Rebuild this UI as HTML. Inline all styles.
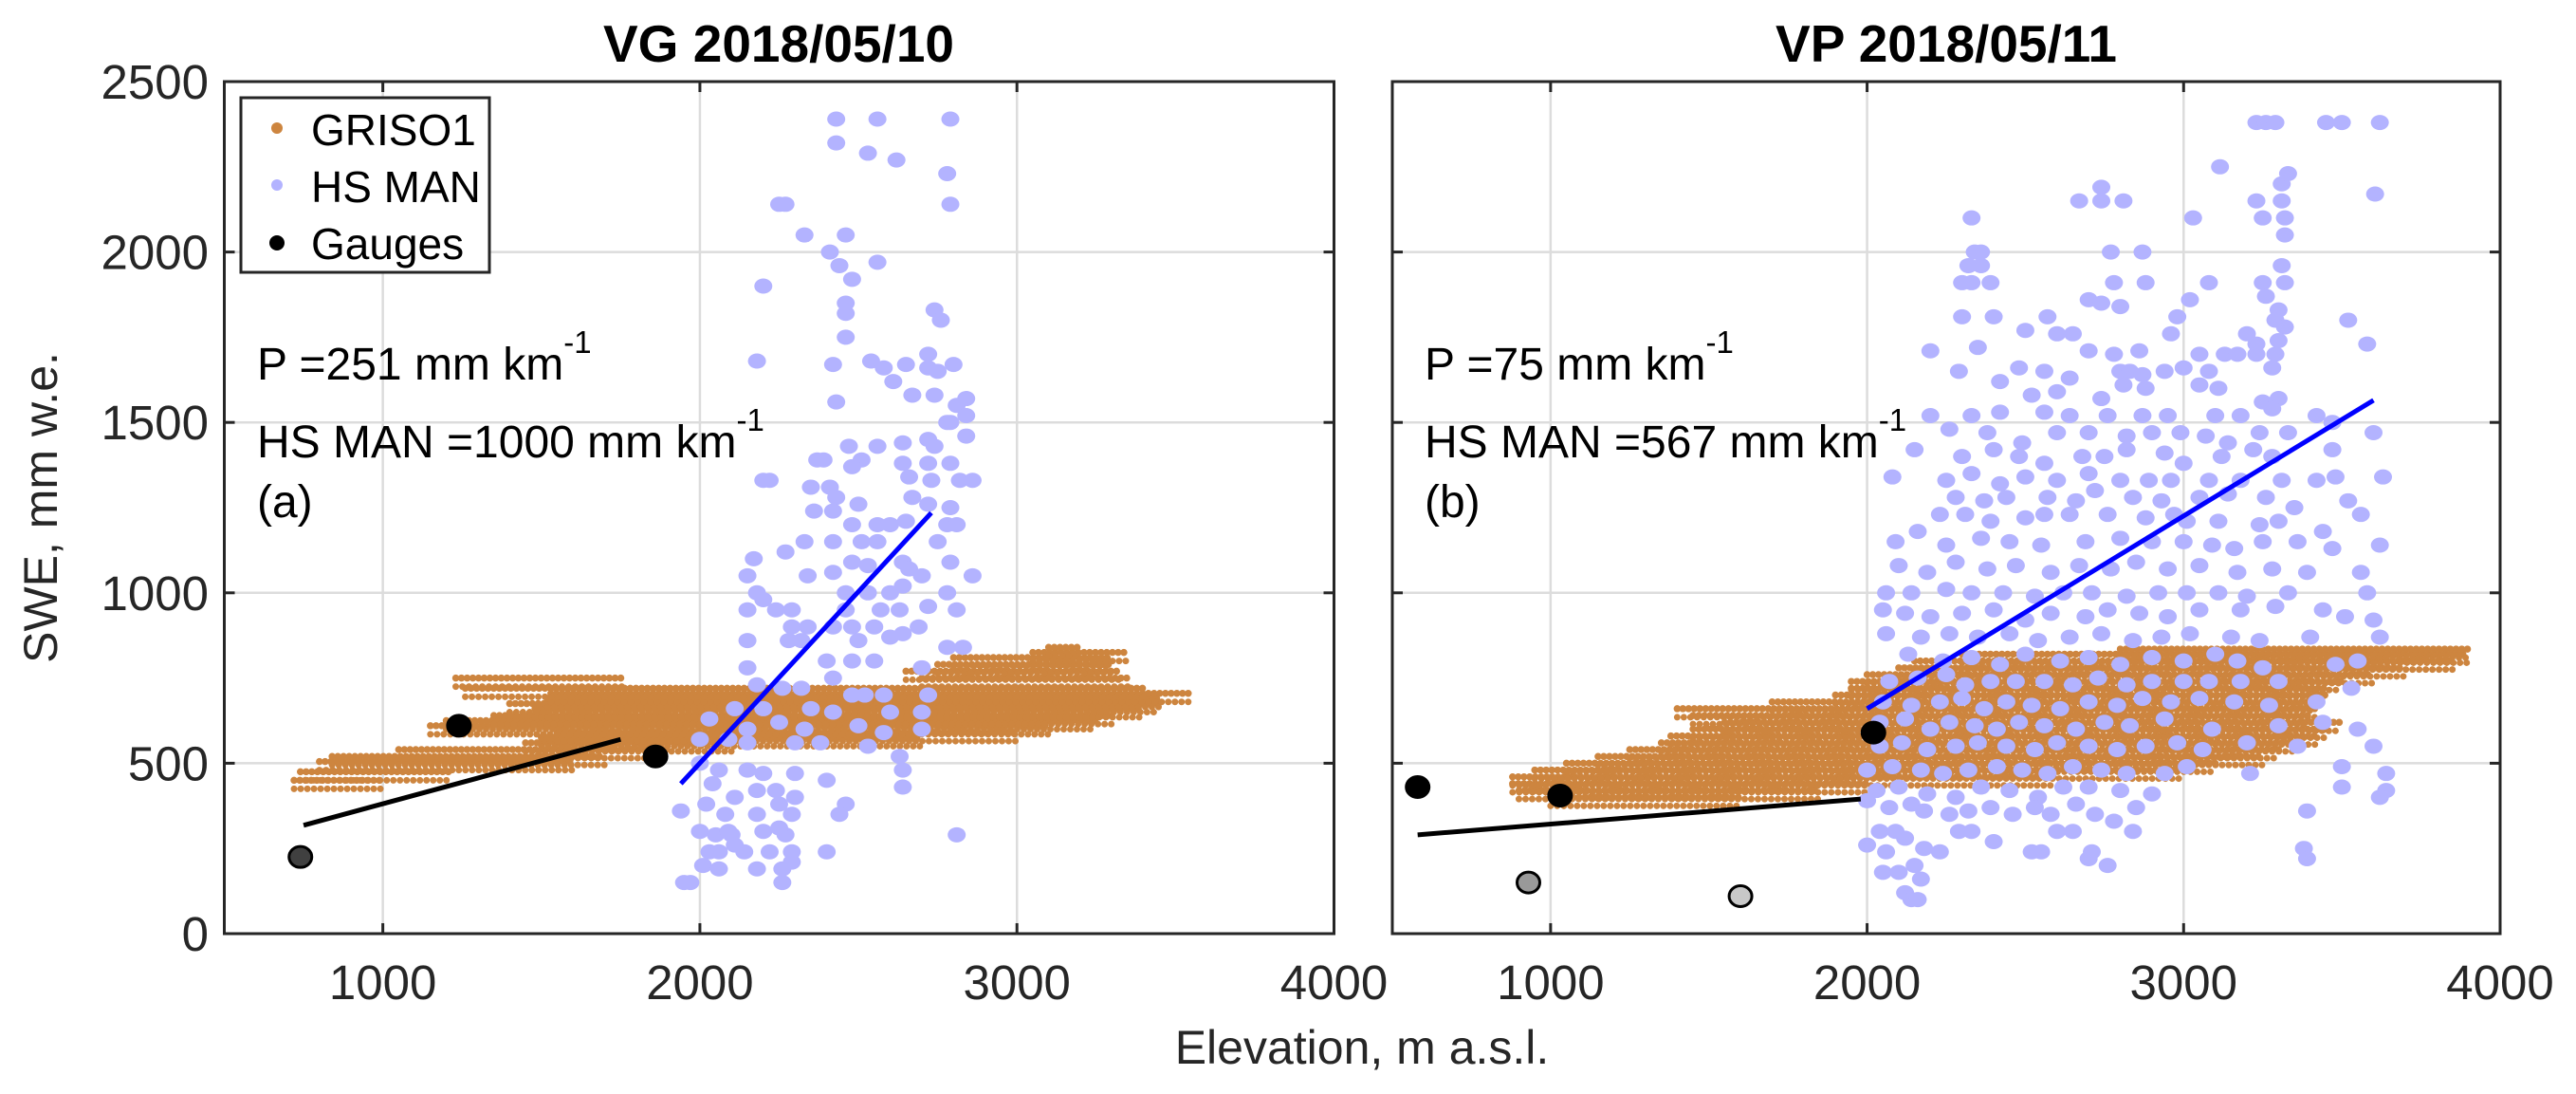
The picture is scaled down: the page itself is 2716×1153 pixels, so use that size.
<!DOCTYPE html>
<html><head><meta charset="utf-8"><style>
html,body{margin:0;padding:0;background:#fff;}
svg{display:block;font-family:"Liberation Sans",Arial,sans-serif;}
</style></head><body>
<svg id="fig" width="2716" height="1153" viewBox="0 0 2716 1153" xmlns="http://www.w3.org/2000/svg">
<defs>
<clipPath id="clipL"><rect x="236" y="86" width="1171" height="898"/></clipPath>
<clipPath id="clipR"><rect x="1468" y="86" width="1168" height="898"/></clipPath>
</defs>
<g id="gridL"></g>
<g id="gridR"></g>
<g id="dataL" clip-path="url(#clipL)"></g>
<g id="dataR" clip-path="url(#clipR)"></g>
<g id="axesL"></g>
<g id="axesR"></g>

<text x="821" y="65" font-size="55" font-weight="bold" text-anchor="middle" fill="#000">VG 2018/05/10</text>
<text x="2052" y="65" font-size="55" font-weight="bold" text-anchor="middle" fill="#000">VP 2018/05/11</text>
<text transform="translate(60,535) rotate(-90)" font-size="50" text-anchor="middle" fill="#262626">SWE, mm w.e.</text>
<text x="1436" y="1121" font-size="50" text-anchor="middle" fill="#262626">Elevation, m a.s.l.</text>

<g font-size="48" fill="#000">
<text x="271" y="400">P =251 mm km<tspan font-size="33" dy="-28">-1</tspan></text>
<text x="271" y="482">HS MAN =1000 mm km<tspan font-size="33" dy="-28">-1</tspan></text>
<text x="271" y="545">(a)</text>
</g>
<g font-size="48" fill="#000">
<text x="1502" y="400">P =75 mm km<tspan font-size="33" dy="-28">-1</tspan></text>
<text x="1502" y="482">HS MAN =567 mm km<tspan font-size="33" dy="-28">-1</tspan></text>
<text x="1502" y="545">(b)</text>
</g>

<g>
<rect x="254" y="103" width="262" height="184" fill="#fff" stroke="#262626" stroke-width="3"/>
<ellipse cx="292" cy="135" rx="6" ry="6" fill="#cd853f"/>
<text x="328" y="153" font-size="46" fill="#000">GRISO1</text>
<ellipse cx="292" cy="195" rx="6" ry="6" fill="#b3b3ff"/>
<text x="328" y="213" font-size="46" fill="#000">HS MAN</text>
<ellipse cx="292" cy="256" rx="8" ry="8" fill="#000"/>
<text x="328" y="273" font-size="46" fill="#000">Gauges</text>
</g>
</svg>
<script>
const xTicks = [1000, 2000, 3000, 4000];
const yTicks = [0, 500, 1000, 1500, 2000, 2500];
const xDomain = [500, 4000];
const yDomain = [0, 2500];

const leftGrisoSwe = [450,475,505,520,540,560,575,590,610,625,640,660,675,690,705,720,750,750,770,790,810,825,840];
const leftGrisoStart = [720,740,800,840,1050,1450,1500,1550,1150,1200,1350,1480,1400,1520,1530,1260,1230,2700,2650,2750,2800,3050,3100];
const leftGrisoEnd = [1000,1220,1600,1700,1900,2100,2700,3000,3100,3250,3300,3400,3450,3450,3550,3400,1760,3350,3330,3300,3300,3350,3200];

const rightGrisoSwe = [400,420,440,460,480,500,520,540,560,580,600,620,640,660,680,700,720,740,760,780,800,820,835];
const rightGrisoStart = [1000,900,880,880,950,1050,1150,1250,1350,1380,1450,1550,1450,1400,1700,1900,1950,1950,2000,2100,2150,2300,2800];
const rightGrisoEnd = [1600,1850,2000,2600,3000,3100,3250,3300,3350,3420,3450,3500,3400,3420,3400,3450,3450,3500,3600,3700,3850,3900,3900];

const leftHs = [[2430,2390],[2560,2390],[2790,2390],[2430,2320],[2530,2290],[2620,2270],[2780,2230],[2790,2140],[2250,2140],[2270,2140],[2330,2050],[2460,2050],[2410,2000],[2440,1960],[2480,1920],[2560,1970],[2200,1900],[2460,1850],[2460,1820],[2740,1830],[2760,1800],[2460,1750],[2420,1670],[2180,1680],[2540,1680],[2580,1660],[2650,1670],[2720,1700],[2720,1660],[2750,1650],[2800,1670],[2610,1620],[2670,1580],[2740,1580],[2840,1570],[2810,1550],[2430,1560],[2840,1520],[2470,1430],[2560,1430],[2640,1440],[2780,1500],[2790,1500],[2720,1450],[2740,1430],[2840,1460],[2370,1390],[2390,1390],[2510,1390],[2480,1370],[2640,1380],[2720,1380],[2790,1380],[2820,1330],[2860,1330],[2660,1340],[2730,1330],[2200,1330],[2220,1330],[2350,1310],[2410,1310],[2430,1280],[2500,1260],[2360,1240],[2420,1240],[2670,1280],[2720,1260],[2790,1250],[2780,1200],[2810,1200],[2480,1200],[2560,1200],[2600,1200],[2650,1210],[2330,1150],[2420,1150],[2510,1150],[2560,1150],[2750,1150],[2170,1100],[2270,1120],[2480,1090],[2530,1080],[2640,1090],[2660,1070],[2700,1050],[2790,1090],[2860,1050],[2150,1050],[2180,1000],[2340,1050],[2420,1060],[2460,1000],[2530,1000],[2600,1000],[2640,1020],[2780,1000],[2200,980],[2240,950],[2150,950],[2290,950],[2460,950],[2570,950],[2630,950],[2720,960],[2810,950],[2290,900],[2340,900],[2420,900],[2480,900],[2550,900],[2640,880],[2690,900],[2150,860],[2280,860],[2320,860],[2500,860],[2600,870],[2780,840],[2830,840],[2150,780],[2400,800],[2480,800],[2550,800],[2700,780],[2420,750],[2180,730],[2260,720],[2320,720],[2480,700],[2520,700],[2580,700],[2720,700],[2110,660],[2200,660],[2350,660],[2420,650],[2600,650],[2700,650],[2030,630],[2150,600],[2250,620],[2330,600],[2500,610],[2580,590],[2700,600],[2000,570],[2090,570],[2150,560],[2300,560],[2380,560],[2530,550],[2630,520],[2000,500],[2060,480],[2150,480],[2200,470],[2300,470],[2400,450],[2640,480],[2040,440],[2110,400],[2180,420],[2240,420],[2300,400],[2460,380],[2640,430],[1940,360],[2020,380],[2080,350],[2180,350],[2250,380],[2290,350],[2440,350],[2000,300],[2050,290],[2090,300],[2200,300],[2270,290],[2030,240],[2060,240],[2140,240],[2220,240],[2290,240],[2400,240],[2810,290],[2010,200],[2060,190],[2180,190],[2260,190],[2290,210],[1950,150],[1970,150],[2260,150],[2100,290],[2110,260],[2250,310]];

const rightHs = [[3230,2380],[3260,2380],[3290,2380],[3450,2380],[3500,2380],[3620,2380],[3115,2250],[3310,2200],[3330,2230],[3230,2150],[3310,2150],[3605,2170],[2740,2190],[2670,2150],[2740,2150],[2810,2150],[3250,2100],[3320,2100],[3030,2100],[2330,2100],[3320,2050],[2340,2000],[2360,2000],[2320,1960],[2360,1960],[2300,1910],[2330,1910],[2390,1910],[2770,2000],[2870,2000],[3310,1960],[2780,1910],[2880,1910],[3080,1910],[3250,1910],[3320,1910],[2700,1860],[2740,1850],[2800,1840],[3020,1860],[3260,1870],[3300,1830],[2300,1810],[2400,1810],[2570,1810],[2980,1810],[3290,1800],[3320,1780],[3520,1800],[2960,1760],[2500,1770],[2600,1760],[2650,1760],[3200,1760],[3230,1730],[3580,1730],[2200,1710],[2350,1720],[2700,1710],[2780,1700],[2860,1710],[3050,1700],[3130,1700],[3170,1700],[3230,1700],[3290,1700],[3300,1740],[2290,1650],[2480,1660],[2560,1650],[2640,1630],[2800,1650],[2830,1650],[2870,1640],[2940,1650],[3000,1660],[3080,1650],[3280,1660],[2420,1620],[2520,1580],[2600,1590],[2740,1570],[2810,1610],[2880,1600],[3050,1610],[3110,1600],[3250,1560],[3300,1570],
[2200,1520],[2330,1520],[2420,1530],[2560,1530],[2640,1520],[2760,1520],[2870,1520],[2950,1520],[3100,1520],[3180,1520],[3280,1540],[3420,1520],[3470,1500],[2260,1480],[2380,1470],[2490,1440],[2600,1470],[2700,1470],[2820,1460],[2900,1470],[2990,1470],[3070,1460],[3140,1440],[3240,1470],[3330,1470],[3600,1470],[2150,1420],[2300,1400],[2400,1420],[2480,1400],[2560,1380],[2680,1400],[2750,1400],[2820,1420],[2940,1410],[3000,1380],[3120,1400],[3220,1420],[3280,1400],[3470,1420],[2080,1340],[2250,1330],[2330,1350],[2420,1320],[2500,1340],[2600,1330],[2700,1350],[2800,1330],[2890,1330],[2960,1330],[3080,1330],[3180,1330],[3310,1330],[3420,1330],[3480,1340],[3630,1340],[2280,1280],[2370,1270],[2440,1280],[2570,1280],[2660,1270],[2720,1300],[2840,1280],[2930,1270],[3050,1280],[3140,1290],[3260,1280],[3520,1270],[3350,1250],[3560,1230],[2230,1230],[2310,1230],[2390,1210],[2500,1220],[2560,1230],[2640,1230],[2760,1230],[2880,1220],[2970,1230],[3010,1210],[3110,1210],[3240,1200],[3300,1210],[3440,1180],[3620,1140],[2090,1150],[2160,1180],[2250,1140],[2360,1160],[2450,1150],[2550,1140],[2690,1150],[2800,1160],[2900,1150],[3000,1150],[3090,1140],[3160,1130],[3250,1150],[3360,1150],[3470,1130],[2100,1080],[2190,1060],[2280,1090],[2380,1070],[2470,1080],[2580,1060],[2670,1080],[2770,1070],[2850,1090],[2950,1070],[3050,1080],[3170,1060],[3280,1070],[3390,1060],[3560,1060],[2060,1000],[2140,1000],[2250,1010],[2330,1000],[2430,1000],[2530,990],[2620,1000],[2710,1000],[2820,990],[2920,1000],[3010,1000],[3110,1000],[3200,990],[3330,1000],[3580,1000],
[2050,950],[2120,940],[2200,930],[2300,940],[2400,950],[2500,920],[2580,940],[2690,930],[2760,950],[2860,940],[2950,930],[3050,950],[3180,950],[3290,960],[3440,950],[3510,930],[3600,920],[2060,880],[2170,870],[2260,880],[2350,870],[2450,880],[2540,860],[2640,870],[2740,880],[2840,860],[2930,870],[3020,880],[3150,870],[3240,860],[3400,870],[3620,870],[2130,820],[2240,800],[2330,810],[2420,790],[2500,820],[2610,800],[2700,810],[2800,790],[2900,810],[3000,800],[3100,820],[3170,800],[3250,780],[3480,790],[3550,800],[2070,740],[2160,750],[2250,760],[2310,730],[2390,740],[2470,740],[2560,740],[2650,730],[2730,750],[2820,730],[2900,740],[3000,740],[3080,740],[3180,740],[3300,740],[3530,720],[2050,680],[2140,670],[2230,680],[2300,690],[2370,660],[2440,680],[2520,670],[2610,660],[2700,680],[2790,670],[2870,690],[2960,680],[3050,690],[3160,680],[3270,670],[3420,680],[2040,620],[2120,630],[2200,600],[2260,620],[2340,610],[2410,600],[2480,620],[2560,610],[2660,600],[2750,620],[2830,610],[2940,630],[3090,600],[3300,610],[3440,620],[2040,550],[2110,560],[2190,540],[2280,550],[2350,560],[2440,550],[2530,540],[2600,560],[2700,550],[2790,540],[2880,550],[2980,560],[3060,540],[3200,560],[3360,550],[3550,600],[3600,550],[2000,480],[2080,490],[2170,480],[2240,470],[2320,480],[2410,490],[2490,480],[2570,470],[2650,490],[2740,480],[2820,470],[2940,470],[3010,490],[3210,470],[3500,490],[3640,470],[2030,420],[2100,430],[2190,410],[2280,400],[2360,430],[2450,420],[2540,400],[2620,430],[2700,430],[2800,420],[2900,410],[3500,430],[3640,420],
[2000,390],[2070,370],[2140,380],[2180,360],[2260,350],[2320,360],[2390,370],[2460,350],[2530,370],[2580,350],[2660,380],[2720,350],[2780,330],[2850,370],[3390,360],[3620,400],[2040,300],[2090,300],[2120,280],[2180,250],[2230,240],[2290,300],[2330,300],[2400,270],[2520,240],[2550,240],[2600,300],[2650,300],[2710,240],[2760,200],[2840,300],[3380,250],[3390,220],[2050,180],[2100,180],[2150,200],[2170,160],[2120,120],[2140,100],[2160,100],[2060,240],[2000,260],[2700,220]];

const leftGaugeElev = [740, 1240, 1860];
const leftGaugeSwe = [225, 610, 520];
const leftGaugeFill = ["#404040", "#000000", "#000000"];
const rightGaugeElev = [580, 1030, 2020, 930, 1600];
const rightGaugeSwe = [430, 405, 590, 150, 110];
const rightGaugeFill = ["#000000", "#000000", "#000000", "#999999", "#c8c8c8"];

const leftGaugeFit = [[750, 318], [1750, 570]];
const leftHsFit = [[1940, 440], [2730, 1235]];
const rightGaugeFit = [[580, 290], [1980, 395]];
const rightHsFit = [[2000, 660], [3600, 1565]];

const NS = "http://www.w3.org/2000/svg";
const Y0 = 984, Y1 = 86;
function yScale(v){ return Y0 + (v - yDomain[0]) / (yDomain[1] - yDomain[0]) * (Y1 - Y0); }
function makeX(px0, px1){ return v => px0 + (v - xDomain[0]) / (xDomain[1] - xDomain[0]) * (px1 - px0); }
const xL = makeX(236.5, 1406.5);
const xR = makeX(1468, 2636);
function el(tag, attrs, parent){ const e = document.createElementNS(NS, tag); for (const k in attrs) e.setAttribute(k, attrs[k]); parent.appendChild(e); return e; }

function drawGrid(g, xs){
  xTicks.forEach(t => {
    const l = el("line", {x1: xs(t), x2: xs(t), y1: Y0, y2: Y1, stroke: "#dcdcdc", "stroke-width": 2.5}, g);
    
    
  });
  yTicks.forEach(t => {
    const l = el("line", {x1: xs(xDomain[0]), x2: xs(xDomain[1]), y1: yScale(t), y2: yScale(t), stroke: "#dcdcdc", "stroke-width": 2.5}, g);
    
    
  });
}
function drawAxes(g, xs, showY){
  const a = xs(xDomain[0]), b = xs(xDomain[1]);
  xTicks.forEach(t => {
    const x = xs(t);
    const tk = el("line", {x1: x, x2: x, y1: Y0, y2: Y0 - 11, stroke: "#262626", "stroke-width": 3}, g);
    
    
    const tk2 = el("line", {x1: x, x2: x, y1: Y1, y2: Y1 + 11, stroke: "#262626", "stroke-width": 3}, g);
    
    
    const tx = el("text", {x: x, y: 1053, "font-size": 51, "text-anchor": "middle", fill: "#262626"}, g);
    tx.textContent = String(t);
    
    
  });
  yTicks.forEach(t => {
    const y = yScale(t);
    const tk = el("line", {x1: a, x2: a + 11, y1: y, y2: y, stroke: "#262626", "stroke-width": 3}, g);
    
    
    const tk2 = el("line", {x1: b, x2: b - 11, y1: y, y2: y, stroke: "#262626", "stroke-width": 3}, g);
    
    
    if (showY) {
      const tx = el("text", {x: 220, y: y + 18, "font-size": 51, "text-anchor": "end", fill: "#262626"}, g);
      tx.textContent = String(t);
      
      
    }
  });
  const box = el("rect", {x: a, y: Y1, width: b - a, height: Y0 - Y1, fill: "none", stroke: "#262626", "stroke-width": 3}, g);
  
  
}
function drawPanel(g, xs, gSwe, gStart, gEnd, hs, gE, gS, gF, gFit, hFit){
  for (let i = 0; i < gSwe.length; i++) {
    const y = yScale(gSwe[i]);
    const r = el("line", {x1: xs(gStart[i]), x2: xs(gEnd[i]), y1: y, y2: y, stroke: "#cd853f", "stroke-width": 7.5, "stroke-linecap": "round", "stroke-dasharray": "0 6"}, g);
    
    
    const r2 = el("line", {x1: xs(gStart[i]), x2: xs(gEnd[i]), y1: y + 9, y2: y + 9, stroke: "#cd853f", "stroke-width": 7, "stroke-linecap": "round", "stroke-dasharray": "0 7"}, g);
    
    
  }
  hs.forEach(p => {
    const c = el("ellipse", {cx: xs(p[0]), cy: yScale(p[1]), rx: 9.5, ry: 8, fill: "#b3b3ff"}, g);
    
    
  });
  const l1 = el("line", {x1: xs(gFit[0][0]), y1: yScale(gFit[0][1]), x2: xs(gFit[1][0]), y2: yScale(gFit[1][1]), stroke: "#000", "stroke-width": 5}, g);
  
  
  const l2 = el("line", {x1: xs(hFit[0][0]), y1: yScale(hFit[0][1]), x2: xs(hFit[1][0]), y2: yScale(hFit[1][1]), stroke: "#0000ff", "stroke-width": 5}, g);
  
  
  for (let i = 0; i < gE.length; i++) {
    const c = el("ellipse", {cx: xs(gE[i]), cy: yScale(gS[i]), rx: 12, ry: 11, fill: gF[i], stroke: "#000", "stroke-width": 3}, g);
    
    
  }
}
drawGrid(document.getElementById("gridL"), xL);
drawGrid(document.getElementById("gridR"), xR);
drawPanel(document.getElementById("dataL"), xL, leftGrisoSwe, leftGrisoStart, leftGrisoEnd, leftHs, leftGaugeElev, leftGaugeSwe, leftGaugeFill, leftGaugeFit, leftHsFit);
drawPanel(document.getElementById("dataR"), xR, rightGrisoSwe, rightGrisoStart, rightGrisoEnd, rightHs, rightGaugeElev, rightGaugeSwe, rightGaugeFill, rightGaugeFit, rightHsFit);
drawAxes(document.getElementById("axesL"), xL, true);
drawAxes(document.getElementById("axesR"), xR, false);
</script>
</body></html>
